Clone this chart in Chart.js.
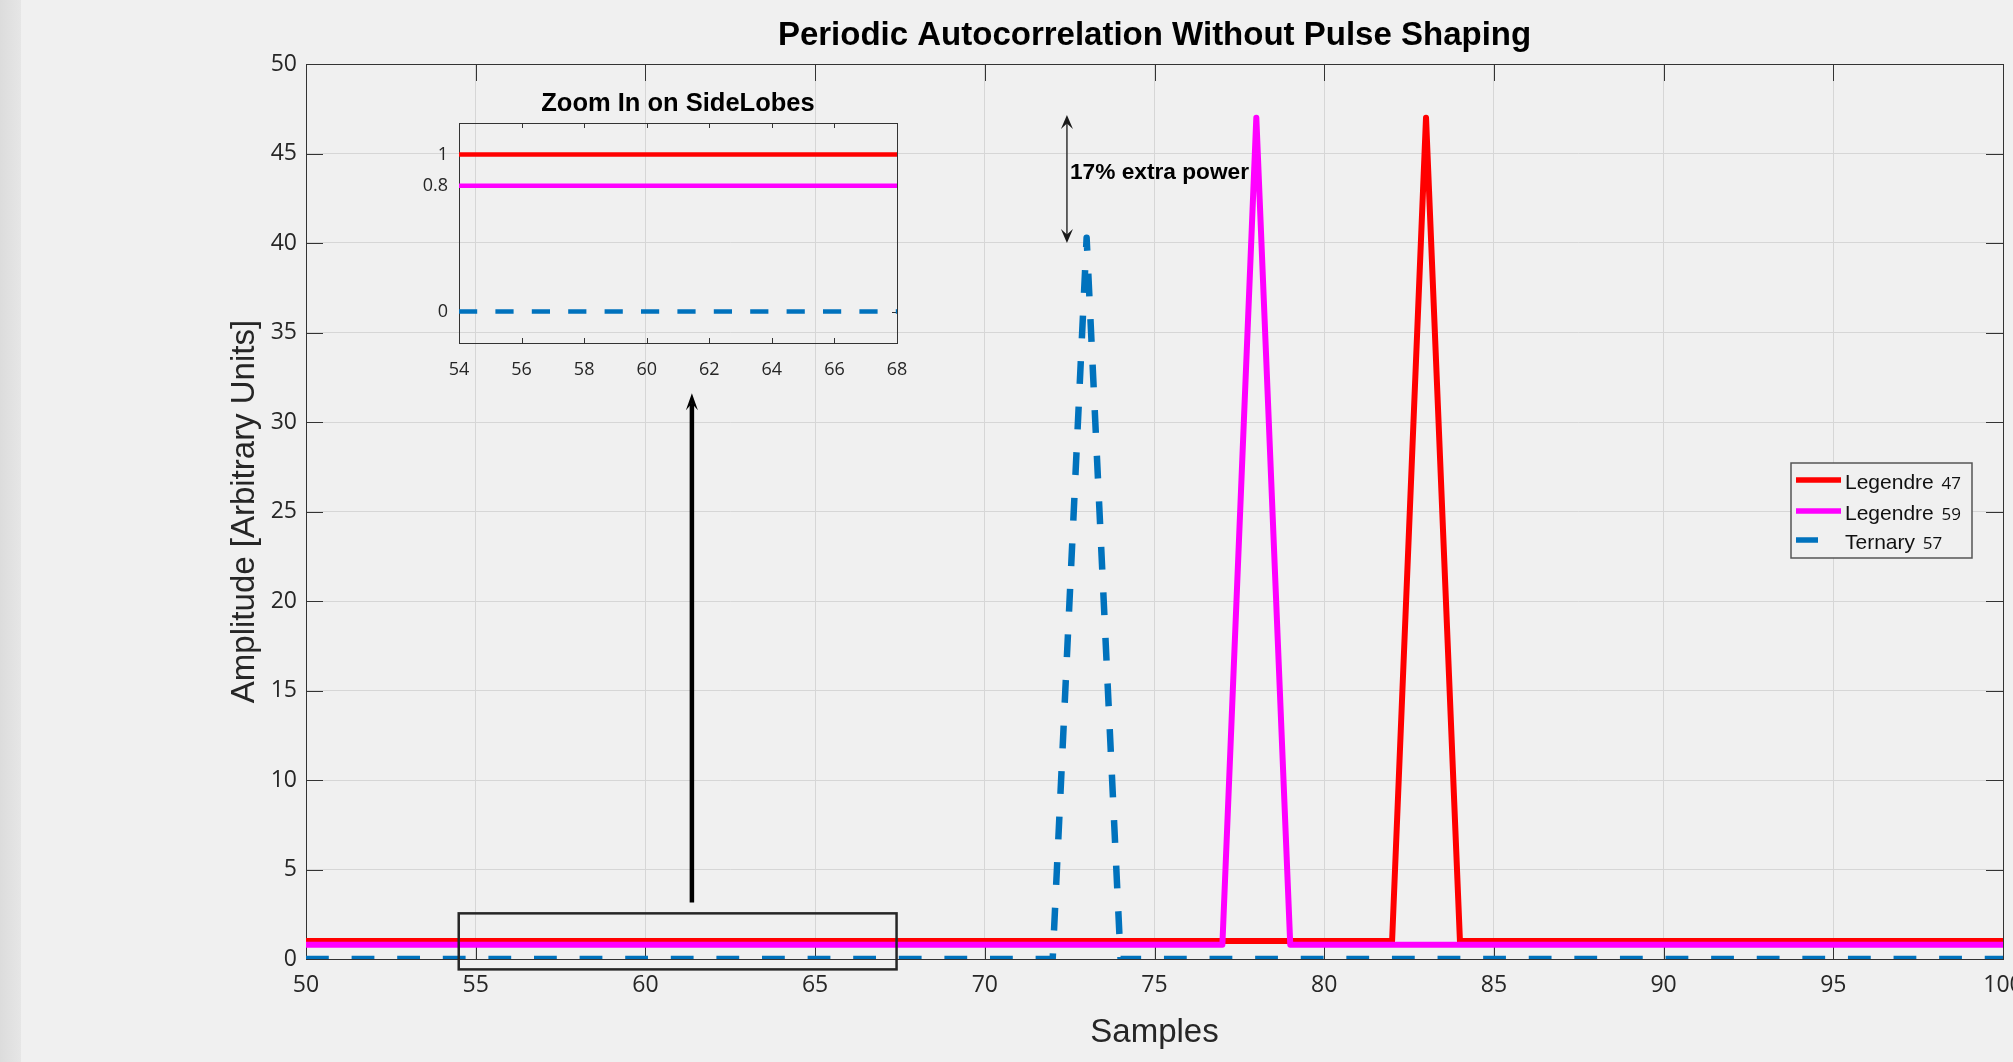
<!DOCTYPE html>
<html>
<head>
<meta charset="utf-8">
<title>Periodic Autocorrelation Without Pulse Shaping</title>
<script src="https://cdn.jsdelivr.net/npm/chart.js@4.4.1/dist/chart.umd.min.js"></script>
<style>
  html, body { margin: 0; padding: 0; background: #f0f0f0; overflow: hidden; }
  #wrap { position: relative; width: 2013px; height: 1062px; }
  #edge { position: absolute; left: 0; top: 0; width: 21px; height: 1062px; background: linear-gradient(to right, #dcdcdc, #e6e6e6); }
  #mycanvas { position: absolute; left: 0; top: 0; }
  #zoomcanvas { position: absolute; left: 380px; top: 70px; }
</style>
</head>
<body>
<div id="wrap">
  <div id="edge"></div>
  <canvas id="mycanvas" width="2013" height="1062"></canvas>
  <canvas id="zoomcanvas" width="540" height="330"></canvas>
</div>
<script>
// corner points of each trace
var samples = [50, 72, 73, 74, 77, 78, 79, 82, 83, 84, 100];
var legendre47 = [1, 1, 1, 1, 1, 1, 1, 1, 47, 1, 1];
var legendre59 = [0.8, 0.8, 0.8, 0.8, 0.8, 47, 0.8, 0.8, 0.8, 0.8, 0.8];
var ternary57 = [0, 0, 40.3, 0, 0, 0, 0, 0, 0, 0, 0];

var seriesNames = ['Legendre 47', 'Legendre 59', 'Ternary 57'];
var seriesColors = ['#ff0000', '#ff00ff', '#0072bd'];

var zoomYTicks = [0, 0.8, 1];

var tickFont = "'Open Sans', 'DejaVu Sans', sans-serif";
var textFont = "'Liberation Sans', Arial, sans-serif";

function toPoints(xs, ys) {
  return xs.map(function (x, i) { return { x: x, y: ys[i] }; });
}

function makeDatasets(width, blueWidth, dash, dashOffset) {
  var values = [legendre47, legendre59, ternary57];
  return values.map(function (v, i) {
    return {
      label: seriesNames[i],
      data: toPoints(samples, v),
      borderColor: seriesColors[i],
      backgroundColor: seriesColors[i],
      borderWidth: i === 2 ? blueWidth : width,
      borderDash: i === 2 ? dash : [],
      borderDashOffset: i === 2 ? dashOffset : 0,
      order: 2 - i
    };
  });
}

function head(c, tx, ty, dx, dy, w, len, color) {
  var px = -dy, py = dx;
  c.fillStyle = color;
  c.beginPath();
  c.moveTo(tx, ty);
  c.lineTo(tx - dx * len + px * w / 2, ty - dy * len + py * w / 2);
  c.lineTo(tx - dx * len * 0.6, ty - dy * len * 0.6);
  c.lineTo(tx - dx * len - px * w / 2, ty - dy * len - py * w / 2);
  c.closePath();
  c.fill();
}

// box + inward tick marks, matlab style
var frame = {
  id: 'frame',
  beforeDatasetsDraw: function (chart, args, opts) {
    var a = chart.chartArea, c = chart.ctx, len = opts.tickLength;
    var xs = chart.scales.x, ys = chart.scales.y;
    c.save();
    c.strokeStyle = opts.color;
    c.lineWidth = opts.lineWidth;
    c.beginPath();
    xs.ticks.forEach(function (t) {
      var px = Math.round(xs.getPixelForValue(t.value)) + 0.5;
      c.moveTo(px, a.bottom); c.lineTo(px, a.bottom - len);
      c.moveTo(px, a.top); c.lineTo(px, a.top + len);
    });
    ys.ticks.forEach(function (t) {
      var py = Math.round(ys.getPixelForValue(t.value)) + 0.5;
      c.moveTo(a.left, py); c.lineTo(a.left + len, py);
      c.moveTo(a.right, py); c.lineTo(a.right - len, py);
    });
    c.stroke();
    c.strokeRect(Math.round(a.left) + 0.5, Math.round(a.top) + 0.5, Math.round(a.right - a.left), Math.round(a.bottom - a.top));
    c.restore();
  }
};

var notes = {
  id: 'notes',
  afterDatasetsDraw: function (chart) {
    var x = chart.scales.x, y = chart.scales.y, c = chart.ctx;
    c.save();
    // region that the inset shows
    var bx1 = x.getPixelForValue(54.5), bx2 = x.getPixelForValue(67.4);
    var by1 = y.getPixelForValue(2.55), by2 = y.getPixelForValue(-0.58);
    c.strokeStyle = '#262626';
    c.lineWidth = 2.5;
    c.strokeRect(bx1, by1, bx2 - bx1, by2 - by1);

    // arrow up to the inset
    var ux = x.getPixelForValue(61.37);
    var uy1 = y.getPixelForValue(3.15), uy2 = y.getPixelForValue(31.6);
    c.strokeStyle = '#000';
    c.lineWidth = 4.5;
    c.beginPath(); c.moveTo(ux, uy1); c.lineTo(ux, uy2 + 10); c.stroke();
    head(c, ux, uy2, 0, -1, 12, 17, '#000');

    // double arrow between the peaks
    var ax = x.getPixelForValue(72.42);
    var top = y.getPixelForValue(47.15), bot = y.getPixelForValue(40);
    c.strokeStyle = '#333';
    c.lineWidth = 1.5;
    c.beginPath(); c.moveTo(ax, top + 8); c.lineTo(ax, bot - 8); c.stroke();
    head(c, ax, top, 0, -1, 12, 14, '#1a1a1a');
    head(c, ax, bot, 0, 1, 12, 14, '#1a1a1a');
    c.fillStyle = '#000';
    c.font = 'bold 22.7px ' + textFont;
    c.textBaseline = 'alphabetic';
    c.textAlign = 'left';
    c.fillText('17% extra power', ax + 3, y.getPixelForValue(43.58));
    c.restore();
  }
};

var legendBox = {
  id: 'legendBox',
  afterDraw: function (chart) {
    var c = chart.ctx, a = chart.chartArea;
    var left = a.right - 212, top = 463, w = 181, h = 95;
    var rows = [480, 511, 540];
    c.save();
    c.fillStyle = '#f0f0f0';
    c.fillRect(left, top, w, h);
    c.strokeStyle = '#555';
    c.lineWidth = 1.5;
    c.strokeRect(left, top, w, h);
    chart.data.datasets.forEach(function (ds, i) {
      var ry = rows[i];
      c.strokeStyle = ds.borderColor;
      c.lineWidth = 5.5;
      c.beginPath();
      c.moveTo(left + 5, ry);
      c.lineTo(left + (i === 2 ? 27 : 50), ry);
      c.stroke();
      var parts = ds.label.split(' ');
      c.fillStyle = '#111';
      c.textBaseline = 'alphabetic';
      c.font = '21px ' + textFont;
      c.fillText(parts[0], left + 54, ry + 9);
      var nw = c.measureText(parts[0] + ' ').width;
      c.font = '17px ' + tickFont;
      c.fillText(parts[1], left + 56 + nw, ry + 9);
    });
    c.restore();
  }
};

Chart.defaults.font.family = textFont;

var ctx = document.getElementById('mycanvas');
var mainChart = new Chart(ctx, {
  type: 'line',
  data: { datasets: makeDatasets(6, 6.5, [22.8, 22.8], 0) },
  options: {
    responsive: false,
    animation: false,
    events: [],
    elements: {
      point: { radius: 0 },
      line: { tension: 0, fill: false, borderJoinStyle: 'round', borderCapStyle: 'butt' }
    },
    layout: { padding: { top: 0, right: 10, bottom: 0, left: 0 } },
    plugins: {
      legend: { display: false },
      tooltip: { enabled: false },
      title: {
        display: true,
        fullSize: false,
        text: 'Periodic Autocorrelation Without Pulse Shaping',
        color: '#000',
        font: { family: textFont, size: 33, weight: 'bold' },
        padding: { top: 16.3, bottom: 8.1 }
      },
      frame: { tickLength: 17, color: '#333', lineWidth: 1 }
    },
    scales: {
      x: {
        type: 'linear',
        min: 50,
        max: 100,
        ticks: { stepSize: 5, autoSkip: false, maxRotation: 0, padding: 13, color: '#262626', font: { family: tickFont, size: 23 } },
        grid: { color: '#d6d6d6', lineWidth: 1, drawTicks: false },
        border: { display: false },
        title: { display: true, text: 'Samples', color: '#262626', font: { family: textFont, size: 33 }, padding: { top: 0, bottom: 9.7 } },
        afterFit: function (scale) { scale.height = 103; scale.paddingLeft = 0; scale.paddingRight = 0; }
      },
      y: {
        type: 'linear',
        min: 0,
        max: 50,
        ticks: { stepSize: 5, autoSkip: false, padding: 9, color: '#262626', font: { family: tickFont, size: 23 } },
        grid: { color: '#d6d6d6', lineWidth: 1, drawTicks: false },
        border: { display: false },
        title: { display: true, text: 'Amplitude [Arbitrary Units]', color: '#262626', font: { family: textFont, size: 33 }, padding: { top: 225, bottom: 0 } },
        afterFit: function (scale) { scale.width = 306; scale.paddingTop = 0; scale.paddingBottom = 0; }
      }
    }
  },
  plugins: [frame, notes, legendBox]
});

// inset: same traces, zoomed on the side lobes
var zctx = document.getElementById('zoomcanvas');
var zoomChart = new Chart(zctx, {
  type: 'line',
  data: { datasets: makeDatasets(4.5, 4.5, [18.2, 18.2], 20.46) },
  options: {
    responsive: false,
    animation: false,
    events: [],
    elements: {
      point: { radius: 0 },
      line: { tension: 0, fill: false, borderJoinStyle: 'round', borderCapStyle: 'butt' }
    },
    layout: { padding: { top: 0, right: 23, bottom: 0, left: 0 } },
    plugins: {
      legend: { display: false },
      tooltip: { enabled: false },
      title: {
        display: true,
        fullSize: false,
        text: 'Zoom In on SideLobes',
        color: '#000',
        font: { family: textFont, size: 25.5, weight: 'bold' },
        padding: { top: 18.5, bottom: 3.9 }
      },
      frame: { tickLength: 5, color: '#333', lineWidth: 1 }
    },
    scales: {
      x: {
        type: 'linear',
        min: 54,
        max: 68,
        ticks: { stepSize: 2, autoSkip: false, maxRotation: 0, padding: 16, color: '#262626', font: { family: tickFont, size: 18 } },
        grid: { display: false, drawTicks: false },
        border: { display: false },
        afterFit: function (scale) { scale.height = 57; scale.paddingLeft = 0; scale.paddingRight = 0; }
      },
      y: {
        type: 'linear',
        min: -0.2,
        max: 1.2,
        ticks: {
          autoSkip: false, padding: 11, color: '#262626', font: { family: tickFont, size: 18 },
          callback: function (value) { return String(value); }
        },
        grid: { display: false, drawTicks: false },
        border: { display: false },
        afterBuildTicks: function (scale) {
          scale.ticks = zoomYTicks.map(function (v) { return { value: v }; });
        },
        afterFit: function (scale) { scale.width = 79; scale.paddingTop = 0; scale.paddingBottom = 0; }
      }
    }
  },
  plugins: [frame]
});
</script>
</body>
</html>
